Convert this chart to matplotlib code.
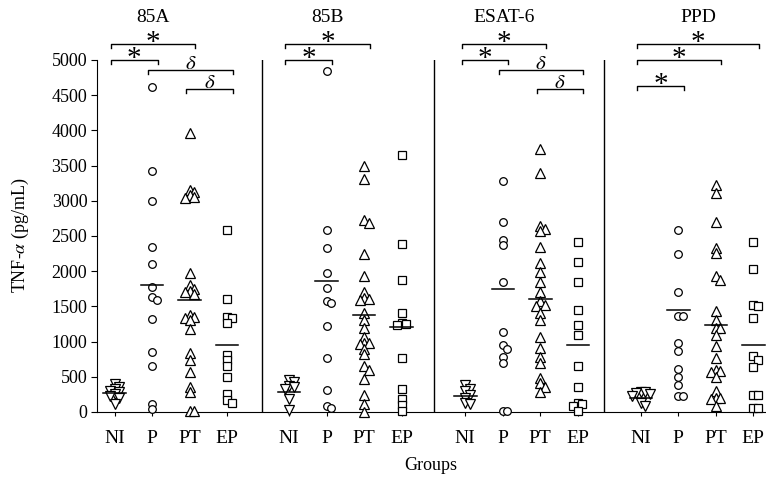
import numpy as np
import matplotlib
matplotlib.use("Agg")
import matplotlib.pyplot as plt

plt.rcParams['font.family'] = ['Liberation Serif', 'DejaVu Serif']
plt.rcParams['mathtext.fontset'] = 'stix'

# groups and antigens
groups = ['NI', 'P', 'PT', 'EP']
antigens = ['85A', '85B', 'ESAT-6', 'PPD']

# TNF-alpha values (pg/mL)
a85_ni = [400, 360, 330, 300, 280, 250, 230, 200, 120]
a85_p = [4620, 3420, 3000, 2340, 2100, 1780, 1640, 1590, 1320, 850, 650, 110, 40]
a85_pt = [3960, 3160, 3130, 3080, 3050, 3040, 1980, 1810, 1750, 1720, 1700, 1680,
          1380, 1350, 1330, 1300, 1180, 840, 740, 570, 350, 280, 10, 10]
a85_ep = [2580, 1600, 1350, 1330, 1260, 810, 740, 650, 500, 260, 170, 130]

b85_ni = [460, 420, 370, 350, 320, 180, 30]
b85_p = [4850, 2580, 2330, 1980, 1760, 1570, 1550, 1220, 770, 310, 80, 50]
b85_pt = [3490, 3310, 2730, 2690, 2240, 1930, 1710, 1620, 1600, 1590, 1410, 1300,
          1200, 1070, 980, 975, 970, 890, 820, 650, 600, 470, 240, 110, 0]
b85_ep = [3650, 2380, 1880, 1400, 1270, 1250, 1240, 770, 320, 180, 100, 10]

esat_ni = [390, 330, 300, 240, 200, 130, 110]
esat_p = [3280, 2700, 2450, 2370, 1850, 1130, 950, 890, 780, 700, 10, 10]
esat_pt = [3730, 3400, 2640, 2600, 2570, 2340, 2120, 1990, 1850, 1710, 1570, 1520,
           1510, 1400, 1300, 1070, 910, 780, 690, 480, 410, 360, 290]
esat_ep = [2420, 2130, 1850, 1450, 1240, 1100, 650, 360, 130, 120, 80, 10]

ppd_ni = [290, 280, 270, 250, 230, 130, 90]
ppd_p = [2580, 2250, 1700, 1370, 1360, 980, 860, 610, 500, 380, 230, 230]
ppd_pt = [3230, 3110, 2700, 2330, 2260, 1930, 1880, 1430, 1300, 1200, 1190, 1100,
          940, 770, 600, 580, 570, 500, 300, 200, 195, 190, 80]
ppd_ep = [2410, 2030, 1520, 1500, 1340, 790, 740, 640, 240, 240, 60, 50]

# group mean lines
means_85a = [270, 1800, 1590, 945]
means_85b = [290, 1866, 1382, 1206]
means_esat = [233, 1752, 1610, 954]
means_ppd = [205, 1453, 1239, 954]

all_data = [[a85_ni, a85_p, a85_pt, a85_ep],
            [b85_ni, b85_p, b85_pt, b85_ep],
            [esat_ni, esat_p, esat_pt, esat_ep],
            [ppd_ni, ppd_p, ppd_pt, ppd_ep]]
all_means = [means_85a, means_85b, means_esat, means_ppd]

# significance brackets: panel, from group, to group, height, label
br_panel = [0, 0, 0, 0, 1, 1, 2, 2, 2, 2, 3, 3, 3]
br_from = [0, 0, 1, 2, 0, 0, 0, 0, 1, 2, 0, 0, 0]
br_to = [2, 1, 3, 3, 2, 1, 2, 1, 3, 3, 3, 2, 1]
br_level = [5230, 5000, 4860, 4590, 5230, 5000, 5230, 5000, 4860, 4590, 5230, 5000, 4630]
br_label = ['*', '*', 'd', 'd', '*', '*', '*', '*', 'd', 'd', '*', '*', '*']

# layout
panel_start = [0.47, 5.12, 9.82, 14.5]
separators = [4.4, 8.99, 13.52]
markers = ['v', 'o', '^', 's']
msizes = [6.5, 5.5, 6.5, 5.5]

fig = plt.figure(figsize=(7.66, 4.78), dpi=100)
ax = fig.add_axes([97 / 766, 66 / 478, 669 / 766, 352 / 478])
ax.set_xlim(0, 669 / 37.5)
ax.set_ylim(0, 5000)

px_per_val = 352 / 5000
px_per_unit = 37.5


def swarm(vals, center, diam=4.5, step=4.5):
    # nudge points sideways only when they sit almost on top of each other
    placed = []
    xs = []
    for v in vals:
        y = v * px_per_val
        for k in [0, 1, -1, 2, -2]:
            x = k * step
            if all((x - a) ** 2 + (y - b) ** 2 >= diam ** 2 for a, b in placed):
                break
        placed.append((x, y))
        xs.append(center + x / px_per_unit)
    return xs


xticks = []
for p in range(4):
    for g in range(4):
        c = panel_start[p] + g
        xticks.append(c)
        vals = all_data[p][g]
        xs = swarm(vals, c)
        ax.plot(xs, vals, linestyle='none', marker=markers[g], markersize=msizes[g],
                markerfacecolor='white', markeredgecolor='black', markeredgewidth=0.9,
                clip_on=False, zorder=3)
        m = all_means[p][g]
        ax.plot([c - 0.3, c + 0.3], [m, m], color='black', lw=1.1, zorder=4)

for s in separators:
    ax.plot([s, s], [0, 5000], color='black', lw=1.0)

# brackets
drop = 60
tops = {}
for i in range(len(br_panel)):
    p = br_panel[i]
    x0 = panel_start[p] + br_from[i] - 0.1
    x1 = panel_start[p] + br_to[i] + 0.15
    y = br_level[i]
    ax.plot([x0, x0, x1, x1], [y - drop, y, y, y - drop], color='black', lw=1.0,
            clip_on=False)
    xm = (x0 + x1) / 2
    if br_label[i] == '*':
        ax.text(xm, y - 90, '*', ha='center', va='baseline', fontsize=21)
    else:
        ax.text(xm, y + 15, r'$\delta$', ha='center', va='baseline', fontsize=15)
    if p not in tops or y > tops[p][1]:
        tops[p] = (xm, y)

for p in range(4):
    ax.text(tops[p][0], 5600, antigens[p], ha='center', va='center', fontsize=14)

ax.spines['top'].set_visible(False)
ax.spines['right'].set_visible(False)
ax.set_yticks(np.arange(0, 5001, 500))
ax.set_xticks(xticks)
ax.set_xticklabels(groups * 4, fontsize=14)
ax.tick_params(axis='y', labelsize=13, length=4, direction='out', pad=3)
ax.tick_params(axis='x', length=3, direction='out', pad=10)

fig.text(20 / 766, 1 - 235 / 478, r'TNF-$\alpha$ (pg/mL)', rotation=90,
         ha='center', va='center', fontsize=13)
fig.text(431 / 766, 1 - 465 / 478, 'Groups', ha='center', va='center', fontsize=13)

fig.savefig('out.png', dpi=100)
